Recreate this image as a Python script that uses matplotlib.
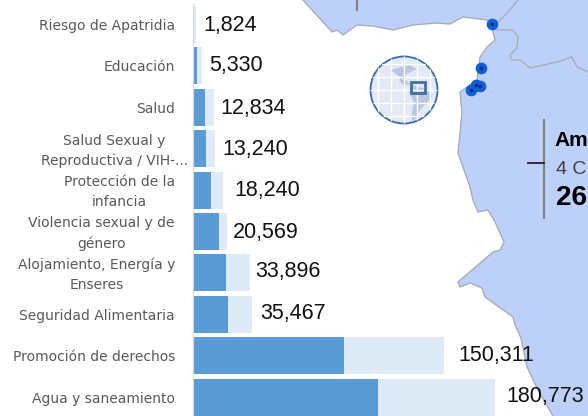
import matplotlib
matplotlib.use("Agg")
import matplotlib.pyplot as plt
from matplotlib.patches import Circle, Polygon, Rectangle
from matplotlib.transforms import ScaledTranslation

# Bars
categories = ["Riesgo de Apatridia", "Educación", "Salud", "Salud Sexual y\nReproductiva / VIH-...",
              "Protección de la\ninfancia", "Violencia sexual y de\ngénero", "Alojamiento, Energía y\nEnseres",
              "Seguridad Alimentaria", "Promoción de derechos", "Agua y saneamiento"]
targets = [1824, 5330, 12834, 13240, 18240, 20569, 33896, 35467, 150311, 180773]
reached = [600, 2400, 7200, 7800, 10800, 15600, 19750, 21000, 90400, 110700]
value_gap = [7, 7, 6, 7, 11, 6, 6, 8, 14, 11]
value_rise = [-1, 0, -1, -1, 0, -1, 1, 1, 0, 1]

# Map outlines, in picture pixels
land_x = [303, 332, 337, 343, 357, 373, 393, 413, 437, 450, 463, 487, 492, 495, 487, 480, 477, 460, 462, 458,
          470, 473, 478, 488, 495, 500, 504, 500, 493, 458, 460, 470, 482, 485, 513, 515, 521, 527, 538, 553]
land_y = [0, 32, 30, 35, 25, 26, 30, 25, 23, 24, 17, 20, 28, 40, 47, 57, 80, 92, 113, 153,
          187, 200, 212, 210, 222, 233, 242, 250, 252, 282, 287, 283, 288, 297, 317, 325, 338, 367, 390, 416]
border1_x = [518, 507, 498, 492]
border1_y = [0, 13, 22, 25]
border2_x = [497, 513, 518, 517, 510, 512, 520, 530, 557, 572, 577, 588]
border2_y = [30, 30, 37, 48, 55, 60, 60, 68, 62, 57, 67, 72]
site_x = [492, 480.5, 480, 476, 471]
site_y = [24, 68, 85.5, 84.5, 90]

# Inset globe outlines
north_am_x = [390, 409, 417, 407, 399, 402, 412]
north_am_y = [70, 65, 69, 74, 80, 84, 85]
south_am_x = [412, 430, 432, 420, 415, 412, 412, 414, 409]
south_am_y = [85, 90, 97, 110, 119, 122, 112, 102, 92]
grid_steps = [-26, -13, 0, 13, 26]

land_col = "#BDD0FA"
coast_col = "#A8ADB8"
dark_col = "#5B9BD5"
light_col = "#DEEAF6"
px = 1 / 100

fig = plt.figure(figsize=(588 * px, 416 * px), dpi=100)
plt.rcParams["font.family"] = ["Liberation Sans", "DejaVu Sans"]

# Map layer fills the whole picture
mp = fig.add_axes([0, 0, 1, 1])
mp.set_xlim(0, 588)
mp.set_ylim(416, 0)
mp.axis("off")
outline = list(zip(land_x, land_y)) + [(588, 416), (588, 0)]
mp.add_patch(Polygon(outline, closed=True, facecolor=land_col, edgecolor="none"))
mp.plot(land_x, land_y, color=coast_col, lw=1)
mp.plot(border1_x, border1_y, color=coast_col, lw=1)
mp.plot(border2_x, border2_y, color=coast_col, lw=1)
mp.plot([357, 357], [0, 10], color="#808080", lw=1.5)

mp.scatter(site_x, site_y, s=55, color="#0F5FD8", zorder=3)
mp.scatter(site_x, site_y, s=2.5, color="#0B2A7A", zorder=4)

# Globe inset
disc = Circle((404, 90), 33.5, facecolor="#E3E9F5", edgecolor="#3B68B0", lw=1.3, zorder=3)
mp.add_patch(disc)
for shape_x, shape_y in [(north_am_x, north_am_y), (south_am_x, south_am_y)]:
    shape = Polygon(list(zip(shape_x, shape_y)), closed=True, facecolor="#B8C6E2", edgecolor="none", zorder=3.1)
    mp.add_patch(shape)
for step in grid_steps:
    v = mp.plot([404 + step] * 2, [56, 124], color="white", lw=1, zorder=3.2)[0]
    h = mp.plot([370, 438], [90 + step] * 2, color="white", lw=1, zorder=3.2)[0]
    v.set_clip_path(disc)
    h.set_clip_path(disc)
mp.add_patch(Rectangle((411, 82), 14, 11, facecolor="none", edgecolor="#3F719F", lw=2, zorder=3.3))

# Callout
mp.plot([544, 544], [120, 218], color="#808080", lw=1.5)
mp.plot([528, 544], [163, 163], color="#222222", lw=1.3)
mp.text(554, 140, "Am", fontsize=15, fontweight="bold", color="black", va="center")
mp.text(556, 170, "4 C", fontsize=14, color="#404040", va="center")
mp.text(556, 198, "26", fontsize=20, fontweight="bold", color="black", va="center")

# Bars sit in their own transparent axes
ax = fig.add_axes([193 / 588, 0, 395 / 588, 412 / 416])
ax.patch.set_alpha(0)
rows = range(len(categories))
ax.barh(rows, targets, height=0.89, color=light_col)
ax.barh(rows, reached, height=0.89, color=dark_col)
ax.set_xlim(0, 236400)
ax.set_ylim(9.456, -0.495)
ax.set_xticks([])
ax.set_yticks(list(rows))
ax.set_yticklabels(categories, fontsize=10, color="#595959", linespacing=1.55,
                   ha="right", multialignment="center", family="DejaVu Sans")
ax.tick_params(axis="y", length=0, pad=13)
ax.yaxis.get_major_ticks()[3].set_pad(3.6)
# two-line labels sit a little higher than the row centre
lift = ScaledTranslation(0, 2.5 / 100, fig.dpi_scale_trans)
for label in ax.get_yticklabels():
    if "\n" in label.get_text():
        label.set_transform(label.get_transform() + lift)
for side in ["top", "right", "bottom"]:
    ax.spines[side].set_visible(False)
ax.spines["left"].set_color("#D9D9D9")

for i, value in enumerate(targets):
    ax.annotate(f"{value:,}", (value, i), xytext=(value_gap[i] * 0.72, value_rise[i] * 0.72),
                textcoords="offset points", fontsize=15.5, color="#111111", va="center", ha="left",
                annotation_clip=False)

plt.savefig("out.png", dpi=100)
plt.close()
